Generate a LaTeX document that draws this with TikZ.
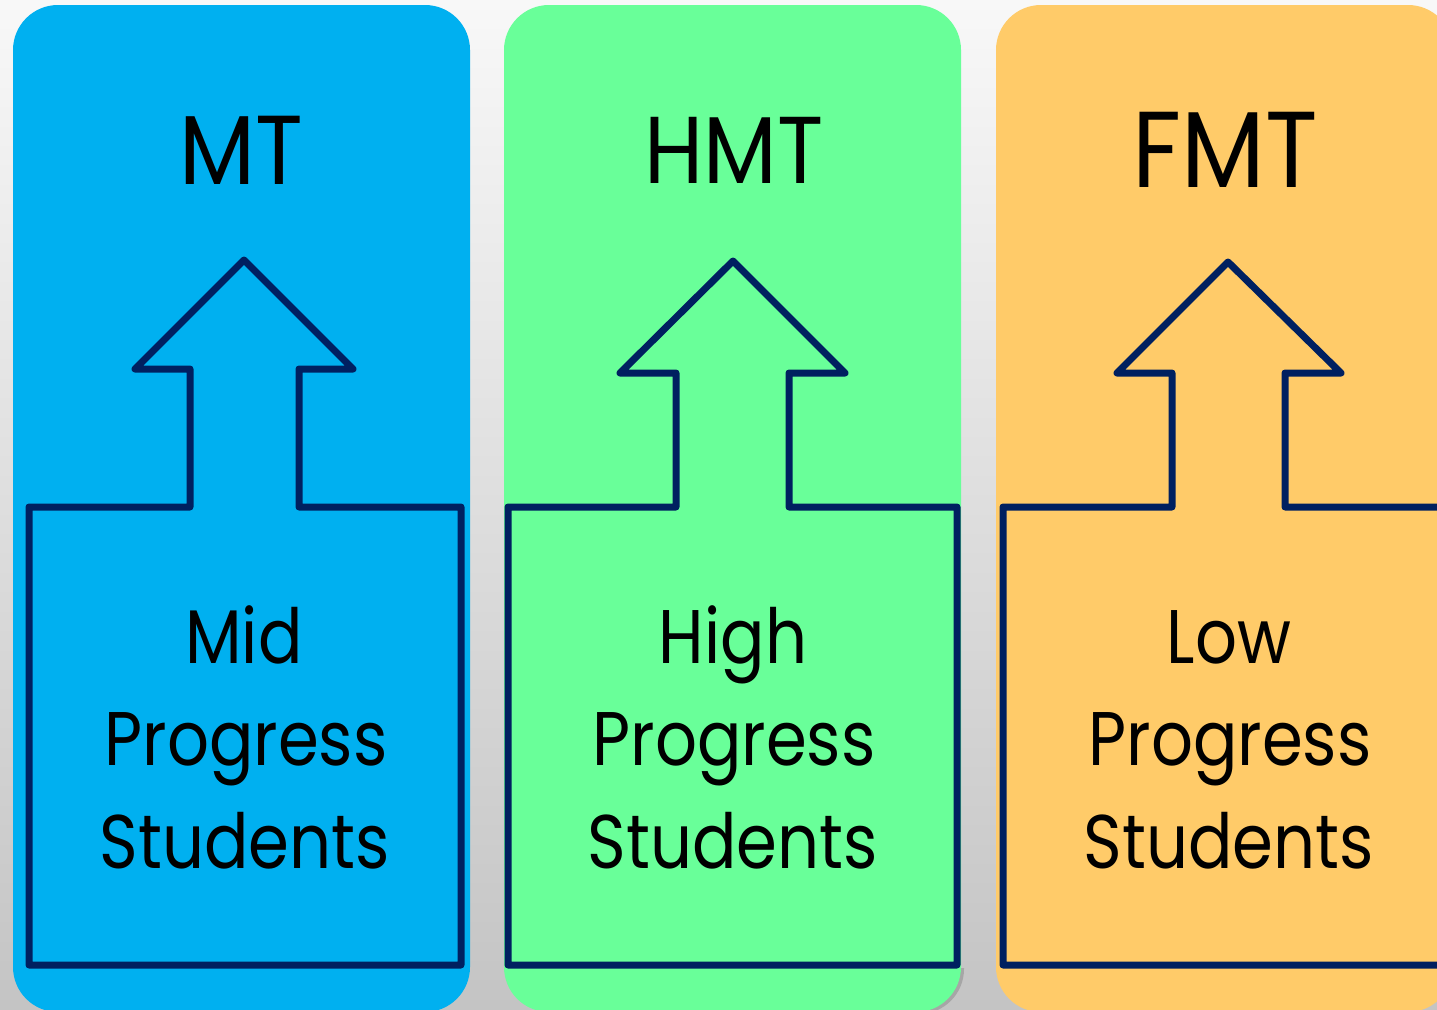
\documentclass[tikz,border=0pt]{standalone}
\usepackage{fontspec}
\setmainfont{Poppins}[FakeStretch=0.9]
\newfontfamily\lblfont{Poppins}[FakeStretch=0.865]
\definecolor{bgtop}{HTML}{F8F8F8}
\definecolor{bgmid}{HTML}{E8E8E8}
\definecolor{bgbot}{HTML}{C4C4C4}
\definecolor{cblue}{HTML}{00B0F0}
\definecolor{cgreen}{HTML}{69FF99}
\definecolor{corange}{HTML}{FFCB69}
\definecolor{navy}{HTML}{002060}
\begin{document}
\begin{tikzpicture}[x=1pt,y=-1pt,
  panel/.style={rounded corners=45pt},
  arrowbox/.style={draw=navy,line width=7pt,line join=round},
  title/.style={anchor=base,inner sep=0pt,text=black},
  label/.style={anchor=base,inner sep=0pt,text=black,font=\lblfont\fontsize{76}{90}\selectfont}
]
\useasboundingbox (0,0) rectangle (1437,1009);
\clip (0,0) rectangle (1437,1009);
\shade[top color=bgtop,middle color=bgmid,bottom color=bgbot] (0,0) rectangle (1437,1009);
% panels
\fill[cblue,panel] (13,5) rectangle (470,1012);
\begin{scope}
  \clip (900,968) rectangle (980,1009);
  \fill[black!35,panel] (506,7) rectangle (964,1014);
\end{scope}
\fill[cgreen,panel] (504,5) rectangle (961,1012);
\fill[corange,panel] (996,5) rectangle (1453,1012);
% arrows
\draw[arrowbox] (29,507) -- (190,507) -- (190,369) -- (135,369) -- (244,260) -- (353,369) -- (299,369) -- (299,507) -- (461,507) -- (461,965) -- (29,965) -- cycle;
\draw[arrowbox] (508,507) -- (676,507) -- (676,373) -- (620,373) -- (733,261) -- (845,373) -- (789,373) -- (789,507) -- (957,507) -- (957,965) -- (508,965) -- cycle;
\draw[arrowbox] (1003,507) -- (1172,507) -- (1172,373) -- (1117,373) -- (1228,262) -- (1341,373) -- (1285,373) -- (1285,507) -- (1470,507) -- (1470,965) -- (1003,965) -- cycle;
% titles
\node[title,font=\fontsize{98}{110}\selectfont] (tmt) at (241,184) {MT};
\node[title,font=\fontsize{95}{110}\selectfont] (thmt) at (734,183) {HMT};
\node[title,font=\fontsize{108}{120}\selectfont] (tfmt) at (1225,187) {FMT};
% labels
\node[label] (b1) at (244,663) {Mid};
\node[label] (b2) at (246,765) {Progress};
\node[label] (b3) at (245,868) {Students};
\node[label] (g1) at (733,663) {High};
\node[label] (g2) at (734,765) {Progress};
\node[label] (g3) at (733,868) {Students};
\node[label] (o1) at (1229,663) {Low};
\node[label] (o2) at (1230,765) {Progress};
\node[label] (o3) at (1229,868) {Students};
\end{tikzpicture}
\end{document}
